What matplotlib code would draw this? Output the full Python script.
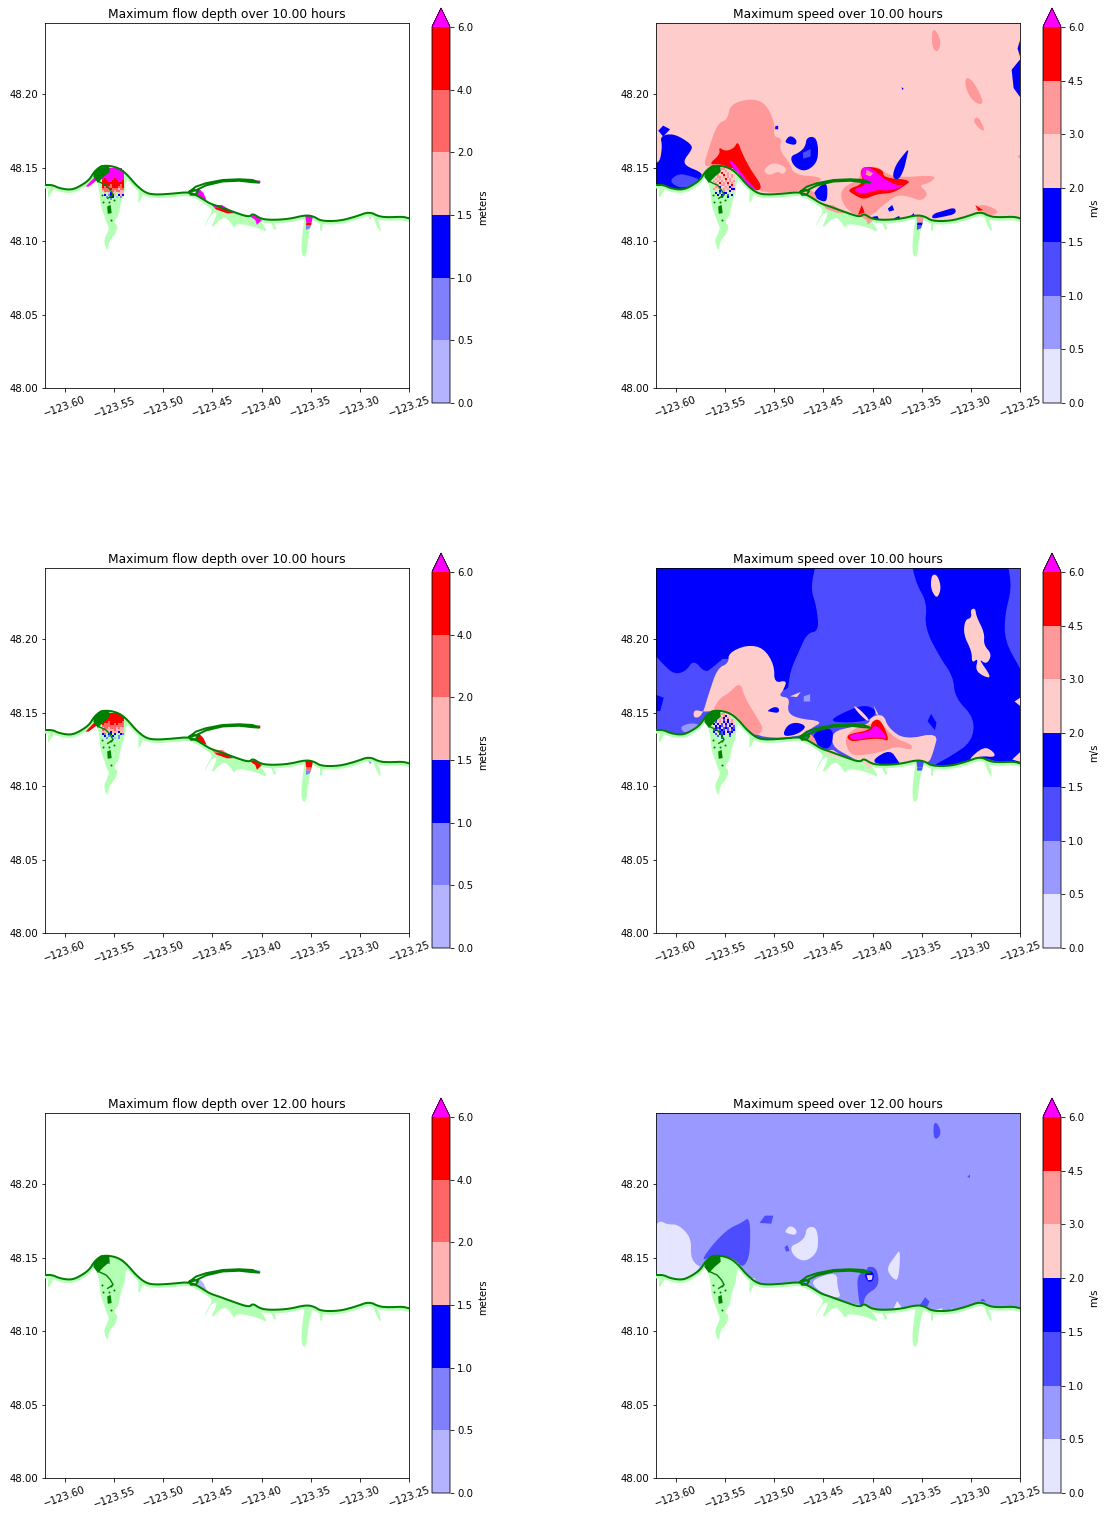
import numpy as np
import matplotlib
matplotlib.use("Agg")
import matplotlib.pyplot as plt
from matplotlib.colors import ListedColormap, BoundaryNorm
from matplotlib.cm import ScalarMappable

# ---------- scales ----------
DEPTH_LEVELS = [0, 0.5, 1.0, 1.5, 2.0, 4.0, 6.0]
DEPTH_COLORS = ['#b3b3ff', '#8080ff', '#0000ff', '#ffb3b3', '#ff6666', '#ff0000']
DEPTH_MID = [0.25, 0.75, 1.25, 1.75, 3.0, 5.0, 7.0]
SPEED_LEVELS = [0, 0.5, 1.0, 1.5, 2.0, 3.0, 4.5, 6.0]
SPEED_COLORS = ['#e5e5ff', '#9999ff', '#4d4dff', '#0000ff', '#ffcccc', '#ff9999', '#ff0000']
SPEED_MID = [0.25, 0.75, 1.25, 1.75, 2.5, 3.75, 5.25, 7.0]
X_TICKS = [-123.60, -123.55, -123.50, -123.45, -123.40, -123.35, -123.30, -123.25]
Y_TICKS = [48.00, 48.05, 48.10, 48.15, 48.20]
HOURS = ['10.00', '10.00', '12.00']
LAND_COLOR = '#b3ffb3'
COAST_COLOR = '#008000'

# ---------- shoreline (lon, lat) ----------
COAST = [(-123.62,48.1381),(-123.6125,48.1381),(-123.6058,48.1359),(-123.5939,48.1347),(-123.5854,48.1370),
         (-123.5753,48.1415),(-123.5702,48.1472),(-123.5634,48.1510),(-123.5549,48.1513),(-123.5447,48.1495),
         (-123.5363,48.1449),(-123.5278,48.1381),(-123.5176,48.1325),(-123.5075,48.1315),(-123.4905,48.1322),
         (-123.4736,48.1334),(-123.4634,48.1302),(-123.4532,48.1256),(-123.4430,48.1234),(-123.4295,48.1200),
         (-123.4125,48.1161),(-123.4091,48.1188),(-123.4007,48.1150),(-123.3888,48.1143),(-123.3719,48.1150),
         (-123.3549,48.1177),(-123.3464,48.1166),(-123.3396,48.1136),(-123.3210,48.1136),(-123.3041,48.1166),
         (-123.2905,48.1200),(-123.2803,48.1166),(-123.2701,48.1161),(-123.2566,48.1166),(-123.2498,48.1154)]
HOOK = [(-123.4736,48.1334),(-123.4668,48.1370),(-123.4566,48.1393),(-123.4397,48.1415),(-123.4227,48.1420),
        (-123.4091,48.1415),(-123.4024,48.1397),(-123.4091,48.1400),(-123.4227,48.1410),(-123.4397,48.1405),
        (-123.4566,48.1378),(-123.4668,48.1345),(-123.4736,48.1334)]
HOOK_LOOP = [(-123.4735,48.1335),(-123.47,48.135),(-123.4645,48.134),(-123.467,48.1315),(-123.472,48.1315),(-123.4735,48.1335)]
CREEK = [(-123.566,48.145),(-123.566,48.1405),(-123.558,48.138),(-123.554,48.135),(-123.551,48.1315),(-123.5565,48.129)]
MARSH = [(-123.571,48.1465),(-123.5635,48.1515),(-123.555,48.1515),(-123.5545,48.147),(-123.56,48.144),(-123.5665,48.1395),(-123.571,48.1435)]
RIVER = [(-123.557,48.1235),(-123.5535,48.1245),(-123.5525,48.119),(-123.5565,48.1185)]
RIVER_DOT_LON = [-123.561, -123.5555, -123.5535, -123.5505, -123.5535, -123.562]
RIVER_DOT_LAT = [48.1265, 48.1265, 48.1305, 48.128, 48.1145, 48.1315]

# ---------- onshore areas ----------
LAND_BAY = [(-123.571,48.146),(-123.566,48.138),(-123.5645,48.130),(-123.5635,48.1235),(-123.5595,48.1165),(-123.5575,48.112),
            (-123.555,48.109),(-123.5575,48.1045),(-123.560,48.101),(-123.5595,48.0975),(-123.5565,48.093),(-123.555,48.100),
            (-123.549,48.1045),(-123.546,48.110),(-123.5505,48.113),(-123.545,48.118),(-123.544,48.1235),(-123.5415,48.129),
            (-123.539,48.134),(-123.538,48.141),(-123.5335,48.1445),(-123.545,48.1505),(-123.563,48.1515)]
LAND_STUB_W = [(-123.616,48.1375),(-123.611,48.136),(-123.613,48.1335),(-123.617,48.129),(-123.6175,48.1325)]
LAND_STUB_2 = [(-123.525,48.135),(-123.52,48.1325),(-123.5235,48.127),(-123.5255,48.126)]
LAND_FLATS = [(-123.4735,48.133),(-123.4535,48.1235),(-123.45,48.12),(-123.4555,48.1145),(-123.4585,48.1085),(-123.4525,48.117),
              (-123.4465,48.12),(-123.4455,48.118),(-123.4525,48.1075),(-123.4385,48.117),(-123.432,48.113),(-123.4275,48.1085),
              (-123.4255,48.112),(-123.4055,48.1095),(-123.393,48.1055),(-123.402,48.1145),(-123.409,48.117),(-123.4295,48.12),
              (-123.4535,48.1255),(-123.467,48.1315)]
LAND_STUB_3 = [(-123.389,48.1145),(-123.385,48.1085),(-123.387,48.1075),(-123.392,48.115)]
LAND_STREAM = [(-123.3555,48.118),(-123.3475,48.117),(-123.3525,48.103),(-123.3545,48.089),(-123.3590,48.0900),(-123.3595,48.0985),(-123.3575,48.11)]
LAND_STUB_4 = [(-123.3405,48.1135),(-123.3375,48.112),(-123.339,48.1065),(-123.3405,48.1075)]
LAND_STUB_5 = [(-123.287,48.1195),(-123.281,48.1145),(-123.278,48.1055),(-123.282,48.109),(-123.286,48.1155)]

# ---------- flow depth patches ----------
D_SLIVER = [(-123.579,48.137),(-123.569,48.144),(-123.567,48.145),(-123.567,48.1415),(-123.576,48.137)]
D_TIP = [(-123.4148,48.1416),(-123.4013,48.1411),(-123.4013,48.1393),(-123.4148,48.1405)]
D_BASE = [(-123.4675,48.1325),(-123.464,48.136),(-123.459,48.1325),(-123.456,48.128),(-123.4625,48.129)]
D_STRIP = [(-123.4505,48.1245),(-123.4403,48.1245),(-123.4267,48.1189),(-123.4352,48.1189),(-123.447,48.1218)]
D_STRIP_LOW = [(-123.447,48.1225),(-123.437,48.122),(-123.4295,48.119),(-123.4352,48.1189),(-123.446,48.1215)]
D_POINT = [(-123.4115,48.1166),(-123.408,48.1177),(-123.3996,48.1143),(-123.4047,48.111),(-123.4064,48.1143)]
D_STREAM_A = [(-123.3555,48.117),(-123.3477,48.117),(-123.349,48.1125),(-123.3545,48.1125)]
D_STREAM_B = [(-123.3545,48.1125),(-123.349,48.1125),(-123.3497,48.1105),(-123.3548,48.1105)]
D_STREAM_C = [(-123.3548,48.1105),(-123.3497,48.1105),(-123.351,48.1086),(-123.3548,48.1075)]
D_TICK_W = [(-123.614,48.137),(-123.6125,48.137),(-123.613,48.1335)]
D_TICK_E = [(-123.2915,48.117),(-123.288,48.116),(-123.2895,48.115)]

# bay cells, codes 1.. = colour bin, '.' = dry; rows run north to south
BAY_LON0, BAY_DLON = -123.564, 0.00204
BAY_LAT0, BAY_DLAT = 48.151, 0.00136
D1_BAY = ['............','...77777777.','...777777777','..7777777777','..7777777777','.77777777777','.76777767777',
          '.66677666776','.66666666666','.66665666656','.65655666556','.55556555455','.45554545544','..4.4344.444',
          '..3.2334.343','...2.33.1.2.','.....2......']
D2_BAY = ['............','....666666..','...66666666.','..6666666666','..6666666666','.66656666665','.65556656555',
          '.55555555555','.45545554544','.54444454444','.44443444344','.32.33.3..32','..3.2.3..2..','...2...1.2..']
D3_BAY = ['............','............','..12........','..212.......','3.1.........']

# ---------- speed panel 1 ----------
S1_BLUE_W = [(-123.62,48.153),(-123.616,48.155),(-123.614,48.165),(-123.616,48.171),(-123.606,48.173),(-123.596,48.171),
             (-123.583,48.165),(-123.585,48.161),(-123.592,48.155),(-123.590,48.151),(-123.575,48.147),(-123.573,48.144),
             (-123.582,48.138),(-123.594,48.135),(-123.606,48.136),(-123.62,48.138)]
S1_BLUE_WS = [(-123.618,48.175),(-123.613,48.1785),(-123.606,48.176),(-123.613,48.171)]
S1_MED_W = [(-123.606,48.1415),(-123.597,48.146),(-123.584,48.144),(-123.575,48.1415),(-123.582,48.138),(-123.594,48.136),(-123.602,48.138)]
S1_LOBE = [(-123.572,48.151),(-123.567,48.162),(-123.558,48.180),(-123.5475,48.1825),(-123.545,48.193),(-123.524,48.197),
           (-123.509,48.194),(-123.499,48.180),(-123.501,48.171),(-123.492,48.170),(-123.495,48.162),(-123.484,48.153),
           (-123.480,48.145),(-123.450,48.1435),(-123.457,48.139),(-123.4735,48.1335),(-123.511,48.1325),(-123.528,48.139),
           (-123.545,48.1495),(-123.563,48.151)]
S1_HOLE = [(-123.511,48.1485),(-123.501,48.154),(-123.486,48.1495),(-123.491,48.145),(-123.496,48.1475),(-123.503,48.145),(-123.508,48.1455)]
S1_RED = [(-123.5565,48.164),(-123.55,48.161),(-123.541,48.163),(-123.537,48.168),(-123.533,48.160),(-123.524,48.1485),
          (-123.512,48.137),(-123.5175,48.1335),(-123.528,48.139),(-123.541,48.1485),(-123.555,48.1525),(-123.567,48.152),(-123.555,48.159)]
S1_MAG = [(-123.5465,48.154),(-123.543,48.155),(-123.528,48.1415),(-123.5175,48.1345),(-123.524,48.136),(-123.5375,48.146)]
S_BLOB_1 = [(-123.489,48.168),(-123.484,48.172),(-123.477,48.169),(-123.478,48.165),(-123.4875,48.1665)]
S_BLOB_2 = [(-123.484,48.1575),(-123.475,48.16),(-123.4685,48.164),(-123.467,48.1705),(-123.458,48.171),(-123.455,48.163),
            (-123.4565,48.153),(-123.4685,48.147),(-123.48,48.1505)]
S1_BLOB_IN = [(-123.471,48.16),(-123.463,48.1625),(-123.463,48.1575),(-123.4705,48.156)]
S1_DOT = [(-123.499,48.178),(-123.496,48.1785),(-123.496,48.176),(-123.499,48.176)]
S1_STREAK = [(-123.38,48.143),(-123.377,48.151),(-123.37,48.1575),(-123.363,48.163),(-123.365,48.1575),(-123.368,48.1485),(-123.3735,48.1415)]
S1_NE_A = [(-123.25,48.2365),(-123.2525,48.231),(-123.25,48.2255)]
S1_NE_B = [(-123.25,48.2235),(-123.2585,48.2165),(-123.2565,48.204),(-123.25,48.198)]
S1_DOT_N = [(-123.3705,48.2045),(-123.3685,48.204),(-123.3695,48.2025)]
S1_ISL_N = [(-123.3395,48.244),(-123.335,48.243),(-123.330,48.235),(-123.334,48.228),(-123.3395,48.2315)]
S1_ISL_E = [(-123.3055,48.212),(-123.297,48.2085),(-123.287,48.195),(-123.2905,48.1925),(-123.299,48.196),(-123.3055,48.204)]
S1_ISL_S = [(-123.2975,48.1825),(-123.2925,48.185),(-123.2855,48.1755),(-123.289,48.175),(-123.2955,48.1795)]
S1_ISL_EDGE = [(-123.2525,48.1575),(-123.25,48.159),(-123.25,48.156)]
S1_C_ORANGE = [(-123.433,48.130),(-123.4295,48.137),(-123.4125,48.142),(-123.413,48.1495),(-123.3955,48.151),(-123.389,48.147),
               (-123.375,48.143),(-123.333,48.145),(-123.343,48.139),(-123.353,48.138),(-123.343,48.1325),(-123.35,48.127),
               (-123.362,48.130),(-123.375,48.1315),(-123.389,48.1245),(-123.4025,48.1165),(-123.411,48.116),(-123.426,48.121)]
S1_C_RED = [(-123.426,48.135),(-123.409,48.139),(-123.413,48.1485),(-123.4055,48.151),(-123.389,48.1485),(-123.389,48.143),
            (-123.36,48.1415),(-123.3685,48.137),(-123.38,48.1325),(-123.3955,48.132),(-123.409,48.128),(-123.419,48.1315)]
S1_C_MAG = [(-123.421,48.135),(-123.4055,48.138),(-123.4125,48.146),(-123.409,48.151),(-123.3995,48.149),(-123.392,48.144),
            (-123.377,48.138),(-123.3665,48.138),(-123.382,48.134),(-123.3955,48.135),(-123.4105,48.1315)]
S1_C_HOLE = [(-123.406,48.1485),(-123.3995,48.146),(-123.402,48.144),(-123.407,48.145)]
S1_UNDER = [(-123.46,48.1325),(-123.453,48.138),(-123.446,48.1395),(-123.446,48.128),(-123.45,48.1265),(-123.46,48.130)]
S1_TRI = [(-123.411,48.1245),(-123.415,48.1175),(-123.408,48.1195)]
S1_COAST_A = [(-123.34,48.115),(-123.3385,48.1185),(-123.328,48.1205),(-123.316,48.123),(-123.315,48.1185),(-123.328,48.1165)]
S1_COAST_B = [(-123.4,48.1165),(-123.395,48.117),(-123.3935,48.115),(-123.4,48.115)]
S1_COAST_C = [(-123.378,48.1155),(-123.373,48.117),(-123.371,48.114),(-123.378,48.114)]
S1_COAST_D = [(-123.362,48.1165),(-123.358,48.119),(-123.3565,48.1155),(-123.362,48.116)]
S1_COAST_E = [(-123.3845,48.122),(-123.38,48.1245),(-123.378,48.121),(-123.383,48.12)]
S1_SE_ORANGE = [(-123.2975,48.122),(-123.287,48.1255),(-123.27,48.12),(-123.28,48.117),(-123.29,48.12)]
S1_SE_RED = [(-123.2955,48.1245),(-123.2875,48.121),(-123.2925,48.1205)]
S1_BAY = ['............','...55665556.','...5655655..','..56575565..','..5655756565','.55665656565','.56565575655',
          '.65656565656','.56575657565','.55656656575','.56545565465','.65565656544','..5.4565.455','..4.3544.5..',
          '...4.45.3.4.','.....3..4...']

# ---------- speed panel 2 ----------
S2_BLUE_NW = [(-123.62,48.25),(-123.458,48.25),(-123.463,48.2345),(-123.457,48.222),(-123.4545,48.2055),(-123.4665,48.204),
              (-123.475,48.1915),(-123.484,48.178),(-123.487,48.16),(-123.5465,48.190),(-123.562,48.181),(-123.5705,48.177),
              (-123.582,48.186),(-123.59,48.178),(-123.602,48.176),(-123.6125,48.1825),(-123.62,48.188)]
S2_BLUE_W = [(-123.62,48.162),(-123.6125,48.16),(-123.616,48.151),(-123.62,48.151)]
S2_PALE_W = [(-123.596,48.1405),(-123.584,48.143),(-123.575,48.1415),(-123.584,48.138),(-123.592,48.136)]
S2_BLUE_E = [(-123.36,48.25),(-123.355,48.237),(-123.3445,48.2245),(-123.347,48.2075),(-123.331,48.187),(-123.318,48.1745),
             (-123.316,48.16),(-123.296,48.146),(-123.299,48.130),(-123.321,48.12),(-123.341,48.113),(-123.321,48.113),
             (-123.304,48.1165),(-123.29,48.12),(-123.27,48.116),(-123.25,48.115),(-123.25,48.18),(-123.2655,48.1985),
             (-123.2655,48.2165),(-123.2585,48.2345),(-123.262,48.25)]
S2_BLUE_MID = [(-123.344,48.144),(-123.3405,48.149),(-123.335,48.143),(-123.3365,48.138)]
S2_LOBE = [(-123.582,48.152),(-123.582,48.146),(-123.5735,48.1475),(-123.567,48.162),(-123.558,48.18),(-123.5465,48.1835),
           (-123.5465,48.1905),(-123.528,48.196),(-123.511,48.194),(-123.5,48.1825),(-123.5,48.17),(-123.487,48.172),
           (-123.4905,48.1655),(-123.4955,48.161),(-123.484,48.16),(-123.487,48.1505),(-123.477,48.146),(-123.45,48.144),
           (-123.463,48.139),(-123.4735,48.1335),(-123.511,48.1325),(-123.528,48.139),(-123.545,48.1495),(-123.563,48.151),(-123.572,48.1505)]
S2_LOBE_BLUE_A = [(-123.5075,48.151),(-123.5,48.154),(-123.495,48.153),(-123.4955,48.1495),(-123.504,48.1505)]
S2_LOBE_BLUE_B = [(-123.492,48.1335),(-123.487,48.1415),(-123.477,48.1435),(-123.4665,48.1405),(-123.4765,48.135)]
S2_SLIVER = [(-123.484,48.161),(-123.473,48.164),(-123.477,48.1605)]
S2_PATCH = [(-123.47,48.161),(-123.4635,48.1625),(-123.4635,48.1575),(-123.47,48.1575)]
S2_LOBE_ORANGE = [(-123.5615,48.153),(-123.555,48.16),(-123.5465,48.163),(-123.5345,48.171),(-123.53,48.16),(-123.515,48.144),
                  (-123.511,48.1385),(-123.5175,48.1335),(-123.528,48.139),(-123.545,48.1495),(-123.561,48.151)]
S2_C_BLUE_N = [(-123.42,48.153),(-123.4055,48.155),(-123.3955,48.151),(-123.402,48.145),(-123.4225,48.143),(-123.4465,48.144)]
S2_C_PINK = [(-123.441,48.137),(-123.419,48.1405),(-123.404,48.142),(-123.402,48.147),(-123.389,48.149),(-123.384,48.1395),
             (-123.367,48.1315),(-123.333,48.1365),(-123.338,48.1235),(-123.343,48.115),(-123.355,48.118),(-123.372,48.115),
             (-123.389,48.1145),(-123.4,48.115),(-123.411,48.116),(-123.426,48.121),(-123.441,48.127)]
S2_C_BLUE_S = [(-123.4,48.118),(-123.382,48.125),(-123.3735,48.1165),(-123.372,48.115),(-123.395,48.1145)]
S2_C_ORANGE = [(-123.429,48.1325),(-123.419,48.139),(-123.4055,48.1415),(-123.392,48.144),(-123.378,48.1325),(-123.359,48.128),
               (-123.3605,48.1245),(-123.376,48.127),(-123.389,48.1235),(-123.409,48.121),(-123.423,48.121)]
S2_C_RED = [(-123.4275,48.135),(-123.402,48.138),(-123.401,48.144),(-123.392,48.146),(-123.382,48.13),(-123.392,48.1325),(-123.409,48.1315),(-123.4225,48.130)]
S2_C_MAG = [(-123.4235,48.135),(-123.402,48.137),(-123.3985,48.1415),(-123.392,48.139),(-123.384,48.1315),(-123.3955,48.1335),(-123.416,48.1315),(-123.4225,48.132)]
S2_UNDER = [(-123.46,48.135),(-123.455,48.138),(-123.44,48.1395),(-123.441,48.128),(-123.448,48.1245),(-123.46,48.13)]
S2_FEELER_A = [(-123.42,48.155),(-123.4135,48.1525),(-123.403,48.145),(-123.4055,48.144),(-123.415,48.15)]
S2_FEELER_B = [(-123.399,48.155),(-123.394,48.1485),(-123.396,48.1485)]
S2_ISL_N = [(-123.3395,48.244),(-123.334,48.2435),(-123.33,48.235),(-123.334,48.2275),(-123.339,48.2315),(-123.341,48.237)]
S2_ISL_E = [(-123.3005,48.22),(-123.2955,48.221),(-123.2945,48.2155),(-123.286,48.204),(-123.287,48.196),(-123.2785,48.1895),
            (-123.284,48.1825),(-123.2925,48.187),(-123.2785,48.1735),(-123.287,48.1745),(-123.2955,48.179),(-123.2925,48.187),
            (-123.299,48.1835),(-123.299,48.1915),(-123.3075,48.203),(-123.306,48.213),(-123.299,48.2145)]
S2_EDGE_A = [(-123.2555,48.1575),(-123.25,48.16),(-123.25,48.1545)]
S2_EDGE_B = [(-123.304,48.117),(-123.287,48.127),(-123.277,48.1235),(-123.275,48.1195),(-123.29,48.1205)]
S2_EDGE_C = [(-123.258,48.118),(-123.25,48.123),(-123.25,48.1165)]
S2_BAY = ['............','...55665565.','...6556455..','..56564565..','..4565354565','.53565464565','.45453545345',
          '.54543535453','.54345343543','.34534353534','.45543454345','..3.4345.4..','...3.4...3..','.....3......']

# ---------- speed panel 3 ----------
S3_PALE_W = [(-123.62,48.1725),(-123.616,48.175),(-123.609,48.1725),(-123.5975,48.1725),(-123.5845,48.1635),(-123.585,48.1505),
             (-123.5795,48.145),(-123.5745,48.144),(-123.582,48.1385),(-123.592,48.135),(-123.606,48.1355),(-123.62,48.138)]
S3_MED_BAY = [(-123.575,48.1475),(-123.56,48.161),(-123.5455,48.17),(-123.5335,48.1735),(-123.5245,48.178),(-123.5245,48.153),
              (-123.53,48.144),(-123.5365,48.145),(-123.545,48.1495),(-123.563,48.151)]
S3_MED_SMALL = [(-123.515,48.1735),(-123.5095,48.1785),(-123.501,48.1785),(-123.503,48.173)]
S3_MED_DOT = [(-123.4895,48.157),(-123.4865,48.1585),(-123.4845,48.1545),(-123.488,48.154)]
S3_PALE_TRI = [(-123.386,48.1425),(-123.377,48.151),(-123.3715,48.156),(-123.3735,48.134),(-123.38,48.136)]
S3_MED_ISL = [(-123.338,48.2415),(-123.334,48.2415),(-123.33,48.235),(-123.334,48.2305),(-123.338,48.2315)]
S3_MED_TINY = [(-123.3035,48.205),(-123.301,48.2065),(-123.301,48.204)]
S3_PALE_UNDER = [(-123.4615,48.135),(-123.436,48.1405),(-123.436,48.13),(-123.4315,48.122),(-123.4475,48.1245),(-123.4595,48.13)]
S3_MED_TIP = [(-123.416,48.138),(-123.4055,48.1415),(-123.405,48.144),(-123.3955,48.143),(-123.393,48.1305),(-123.4075,48.1245),
              (-123.409,48.118),(-123.4125,48.1165),(-123.4145,48.1235)]
S3_BLUE_RING = [(-123.4075,48.139),(-123.4025,48.1412),(-123.3985,48.139),(-123.399,48.1345),(-123.404,48.133),(-123.4075,48.1365)]
S3_WHITE_RING = [(-123.406,48.138),(-123.4,48.138),(-123.4005,48.135),(-123.4045,48.1345)]
S3_PINK_CORE = [(-123.4045,48.1372),(-123.401,48.1372),(-123.4015,48.135),(-123.404,48.135)]
S3_PALE_A = [(-123.3785,48.1155),(-123.375,48.1205),(-123.37,48.1155)]
S3_PALE_B = [(-123.34,48.114),(-123.329,48.1155),(-123.329,48.1135)]
S3_PALE_C = [(-123.3225,48.114),(-123.319,48.1155),(-123.3165,48.1135)]
S3_PALE_D = [(-123.5255,48.1355),(-123.52,48.136),(-123.5175,48.1325)]
S3_PALE_E = [(-123.429,48.1205),(-123.4255,48.1195),(-123.423,48.1185)]
S3_MED_COAST_A = [(-123.352,48.1175),(-123.3465,48.123),(-123.342,48.12),(-123.3445,48.1165)]
S3_MED_COAST_B = [(-123.2905,48.1205),(-123.288,48.122),(-123.2845,48.12)]
S3_BAY = ['............','..5.........','.2.3........','..21........']

# ---------- panels: (polygon, value) in painter's order ----------
DEPTH_PATCHES = [
    [(D_SLIVER,7.0),(D_TIP,7.0),(D_BASE,7.0),(D_STRIP,7.0),(D_STRIP_LOW,5.0),(D_POINT,7.0),(D_STREAM_A,7.0),(D_STREAM_B,5.0),(D_STREAM_C,0.75),(D_TICK_W,1.75),(D_TICK_E,1.75)],
    [(D_SLIVER,5.0),(D_TIP,5.0),(D_BASE,5.0),(D_STRIP,3.0),(D_STRIP_LOW,5.0),(D_POINT,5.0),(D_STREAM_A,5.0),(D_STREAM_B,3.0),(D_STREAM_C,0.75),(D_TICK_W,1.75),(D_TICK_E,0.75)],
    [(D_TIP,0.75),(D_BASE,0.25)],
]
SPEED_WATER = [2.5, 1.25, 0.75]
SPEED_PATCHES = [
    [(S1_BLUE_W,1.75),(S1_BLUE_WS,1.75),(S1_MED_W,1.25),(S1_LOBE,3.75),(S1_HOLE,2.5),(S1_RED,5.25),(S1_MAG,7.0),(S_BLOB_1,1.75),
     (S_BLOB_2,1.75),(S1_BLOB_IN,1.25),(S1_DOT,1.75),(S1_C_ORANGE,3.75),(S1_C_RED,5.25),(S1_C_MAG,7.0),(S1_C_HOLE,3.75),
     (S1_STREAK,1.75),(S1_NE_A,1.75),(S1_NE_B,1.75),(S1_DOT_N,1.75),(S1_ISL_N,3.75),(S1_ISL_E,3.75),(S1_ISL_S,3.75),(S1_ISL_EDGE,3.75),
     (S1_UNDER,1.75),(S1_TRI,5.25),(S1_COAST_A,1.75),(S1_COAST_B,1.75),(S1_COAST_C,1.75),(S1_COAST_D,1.75),(S1_COAST_E,1.75),
     (S1_SE_ORANGE,3.75),(S1_SE_RED,5.25)],
    [(S2_BLUE_NW,1.75),(S2_BLUE_W,1.75),(S2_PALE_W,0.75),(S2_BLUE_E,1.75),(S2_BLUE_MID,1.75),(S2_LOBE,2.5),(S2_LOBE_BLUE_A,1.75),
     (S2_LOBE_BLUE_B,1.75),(S2_SLIVER,2.5),(S2_PATCH,0.75),(S2_LOBE_ORANGE,3.75),(S2_C_BLUE_N,1.75),(S2_C_PINK,2.5),(S2_C_BLUE_S,1.75),
     (S2_C_ORANGE,3.75),(S2_C_RED,5.25),(S2_C_MAG,7.0),(S2_UNDER,1.75),(S2_FEELER_A,2.5),(S2_FEELER_B,2.5),(S2_ISL_N,2.5),(S2_ISL_E,2.5),
     (S2_EDGE_A,2.5),(S2_EDGE_B,2.5),(S2_EDGE_C,2.5)],
    [(S3_PALE_W,0.25),(S3_MED_BAY,1.25),(S3_MED_SMALL,1.25),(S_BLOB_1,0.25),(S_BLOB_2,0.25),(S3_MED_DOT,1.25),(S3_PALE_TRI,0.25),
     (S3_MED_ISL,1.25),(S3_MED_TINY,1.25),(S3_PALE_UNDER,0.25),(S3_MED_TIP,1.25),(S3_BLUE_RING,1.75),(S3_WHITE_RING,0.25),(S3_PINK_CORE,2.5),
     (S3_PALE_A,0.25),(S3_PALE_B,0.25),(S3_PALE_C,0.25),(S3_PALE_D,0.25),(S3_PALE_E,0.25),(S3_MED_COAST_A,1.25),(S3_MED_COAST_B,1.25)],
]
SPEED_COAST_PATCHES = [
    [(D_BASE,3.75),(D_STRIP,3.75),(D_POINT,3.75),(D_STREAM_A,3.75),(D_STREAM_B,1.75),(D_STREAM_C,1.25)],
    [(D_BASE,3.75),(D_STRIP,2.5),(D_POINT,2.5),(D_STREAM_A,1.25),(D_STREAM_B,1.25)],
    [],
]
LANDS = [LAND_BAY, LAND_STUB_W, LAND_STUB_2, LAND_FLATS, LAND_STUB_3, LAND_STREAM, LAND_STUB_4, LAND_STUB_5]

W, H = 1105, 1515
ROW_TOPS = [23, 568, 1113]
COL_LEFTS = [45, 656]
AX_W, AX_H = 364, 365

fig = plt.figure(figsize=(W / 72, H / 72), dpi=72)

def xy(poly):
    a = np.array(poly)
    return a[:, 0], a[:, 1]

def on_frame(p):
    return p[0] <= -123.6199 or p[0] >= -123.2501 or p[1] >= 48.2499

def rounded(poly, passes=2):
    """Round off the corners of a traced outline; vertices on the map frame stay put."""
    pts = [tuple(p) for p in poly]
    if len(pts) < 5:
        return np.array(pts)
    for _ in range(passes):
        out = []
        for i, a in enumerate(pts):
            b = pts[(i + 1) % len(pts)]
            q = a if on_frame(a) else (0.75 * a[0] + 0.25 * b[0], 0.75 * a[1] + 0.25 * b[1])
            r = b if on_frame(b) else (0.25 * a[0] + 0.75 * b[0], 0.25 * a[1] + 0.75 * b[1])
            out += [q, r]
        pts = out
    return np.array(pts)

def rounded_line(line, passes=2):
    pts = np.array(line)
    for _ in range(passes):
        q = 0.75 * pts[:-1] + 0.25 * pts[1:]
        r = 0.25 * pts[:-1] + 0.75 * pts[1:]
        mid = np.empty((2 * len(q), 2))
        mid[0::2], mid[1::2] = q, r
        pts = np.vstack([pts[:1], mid, pts[-1:]])
    return pts

def bay_mesh(ax, rows, mids, cmap, norm):
    ncol = 12
    vals = np.full((len(rows), ncol), np.nan)
    for i, r in enumerate(rows):
        for j, c in enumerate(r[:ncol]):
            if c != '.':
                vals[i, j] = mids[int(c) - 1]
    lon_e = BAY_LON0 + BAY_DLON * np.arange(ncol + 1)
    lat_e = BAY_LAT0 - BAY_DLAT * np.arange(len(rows) + 1)
    ax.pcolormesh(lon_e, lat_e, np.ma.masked_invalid(vals), cmap=cmap, norm=norm, zorder=4, antialiased=False)

def draw_panel(row, col):
    top, left = ROW_TOPS[row], COL_LEFTS[col]
    ax = fig.add_axes([left / W, 1 - (top + AX_H) / H, AX_W / W, AX_H / H])
    if col == 0:
        levels, colors, label, what = DEPTH_LEVELS, DEPTH_COLORS, 'meters', 'flow depth'
    else:
        levels, colors, label, what = SPEED_LEVELS, SPEED_COLORS, 'm/s', 'speed'
    cmap = ListedColormap(colors)
    cmap.set_over('#ff00ff')
    norm = BoundaryNorm(levels, len(colors))
    col_of = lambda v: cmap(norm(v))

    coast = rounded_line(COAST)
    clon, clat = coast[:, 0], coast[:, 1]
    if col == 1:
        ax.fill(list(clon) + [-123.25, -123.62], list(clat) + [48.25, 48.25],
                color=col_of(SPEED_WATER[row]), lw=0, zorder=1)
        for poly, v in SPEED_PATCHES[row]:
            pts = rounded(poly)
            ax.fill(pts[:, 0], pts[:, 1], color=col_of(v), lw=0, zorder=2)
    for poly in LANDS:
        pts = rounded(poly, passes=1)
        ax.fill(pts[:, 0], pts[:, 1], color=LAND_COLOR, lw=0, zorder=3)
    ax.plot(clon, clat - 0.0012, color=LAND_COLOR, lw=3.5, zorder=3)

    if col == 0:
        for poly, v in DEPTH_PATCHES[row]:
            px, py = xy(poly)
            ax.fill(px, py, color=col_of(v), lw=0, zorder=4)
        bay_mesh(ax, [D1_BAY, D2_BAY, D3_BAY][row], DEPTH_MID, cmap, norm)
    else:
        for poly, v in SPEED_COAST_PATCHES[row]:
            px, py = xy(poly)
            ax.fill(px, py, color=col_of(v), lw=0, zorder=4)
        bay_mesh(ax, [S1_BAY, S2_BAY, S3_BAY][row], SPEED_MID, cmap, norm)

    ax.plot(clon, clat, color=COAST_COLOR, lw=2, zorder=6, solid_joinstyle='round')
    for line in (HOOK, HOOK_LOOP):
        lx, ly = xy(line)
        ax.plot(lx, ly, color=COAST_COLOR, lw=2, zorder=6, solid_joinstyle='round')
    lx, ly = xy(CREEK)
    ax.plot(lx, ly, color=COAST_COLOR, lw=1.4, zorder=6)
    for poly in (MARSH, RIVER):
        px, py = xy(poly)
        ax.fill(px, py, color=COAST_COLOR, lw=0, zorder=6)
    ax.scatter(RIVER_DOT_LON, RIVER_DOT_LAT, s=4, color=COAST_COLOR, lw=0, zorder=6)

    ax.set_xlim(-123.6203, -123.2500)
    ax.set_ylim(48.0, 48.2483)
    ax.set_xticks(X_TICKS)
    ax.set_yticks(Y_TICKS)
    ax.set_xticklabels([f'\u2212{abs(t):.2f}' for t in X_TICKS], rotation=20, fontsize=10.15)
    ax.set_yticklabels([f'{t:.2f}' for t in Y_TICKS], fontsize=10.15)
    ax.set_title(f'Maximum {what} over {HOURS[row]} hours', fontsize=12.2, pad=5)

    # the colorbar axes include the arrow: 376 px of scale plus 5 percent
    cax = fig.add_axes([(left + 387) / W, 1 - (top + 380) / H, 18 / W, 395 / H])
    cb = fig.colorbar(ScalarMappable(norm=norm, cmap=cmap), cax=cax, extend='max', ticks=levels)
    cb.ax.set_yticklabels([f'{t:.1f}' for t in levels], fontsize=10.15)
    cb.set_label(label, fontsize=10.15)
    cb.ax.yaxis.set_label_coords(2.56, 0.52)

for r in range(3):
    for c in range(2):
        draw_panel(r, c)

fig.savefig('out.png', dpi=72, facecolor='white')
